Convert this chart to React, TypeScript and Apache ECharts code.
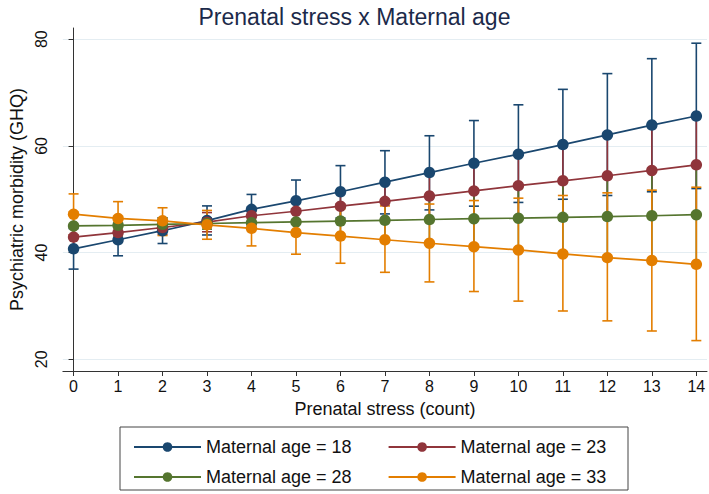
import React, { useEffect, useRef } from "react";
import * as echarts from "echarts";

const stress = [0, 1, 2, 3, 4, 5, 6, 7, 8, 9, 10, 11, 12, 13, 14];
const xTicks = [0, 1, 2, 3, 4, 5, 6, 7, 8, 9, 10, 11, 12, 13, 14];
const yTicks = [20, 40, 60, 80];

const seriesNames = ["Maternal age = 18", "Maternal age = 23", "Maternal age = 28", "Maternal age = 33"];
const colors = ["#1a476f", "#90353b", "#55752f", "#e37e00"];

const age18 = [40.7, 42.4, 44.1, 46.0, 48.1, 49.7, 51.4, 53.2, 55.0, 56.75, 58.45, 60.25, 62.05, 63.9, 65.6];
const age18Lo = [36.9, 39.4, 41.7, 43.3, 45.2, 45.8, 46.5, 47.25, 48.0, 48.7, 49.4, 50.0, 50.7, 51.4, 52.0];
const age18Hi = [44.5, 45.4, 46.5, 48.75, 50.9, 53.6, 56.3, 59.1, 61.9, 64.75, 67.7, 70.6, 73.55, 76.35, 79.25];

const age23 = [42.9, 43.75, 44.7, 45.7, 46.9, 47.75, 48.7, 49.6, 50.6, 51.55, 52.55, 53.45, 54.4, 55.4, 56.45];
const age23Lo = [40.9, 42.0, 43.4, 43.9, 45.7, 45.8, 45.9, 46.1, 46.3, 46.4, 46.5, 46.6, 46.8, 46.9, 47.2];
const age23Hi = [44.9, 45.5, 46.0, 47.5, 48.1, 49.7, 51.4, 53.1, 54.9, 56.7, 58.5, 60.3, 62.0, 63.9, 65.6];

const age28 = [45.0, 45.1, 45.3, 45.45, 45.6, 45.75, 45.9, 46.05, 46.2, 46.35, 46.45, 46.6, 46.75, 46.9, 47.1];
const age28Lo = [43.0, 43.5, 44.1, 44.4, 44.55, 43.8, 43.1, 42.4, 41.75, 41.1, 40.5, 39.75, 39.05, 38.5, 37.8];
const age28Hi = [47.0, 46.7, 46.5, 46.5, 46.9, 47.7, 48.7, 49.6, 50.6, 51.55, 52.55, 53.45, 54.4, 55.4, 56.45];

const age33 = [47.2, 46.4, 45.95, 45.2, 44.55, 43.75, 43.1, 42.4, 41.75, 41.1, 40.5, 39.75, 39.05, 38.5, 37.8];
const age33Lo = [43.3, 43.1, 43.2, 42.5, 41.25, 39.7, 38.0, 36.3, 34.5, 32.7, 30.9, 29.05, 27.2, 25.3, 23.5];
const age33Hi = [51.0, 49.55, 48.4, 47.9, 47.8, 47.8, 48.2, 48.75, 49.1, 49.75, 50.2, 50.7, 51.2, 51.7, 52.25];

const means = [age18, age23, age28, age33];
const lows = [age18Lo, age23Lo, age28Lo, age33Lo];
const highs = [age18Hi, age23Hi, age28Hi, age33Hi];

const FONT = "Liberation Sans, Arial, sans-serif";

function ciRenderer(color: string) {
  return (params: any, api: any) => {
    const x = api.value(0);
    const lo = api.value(1);
    const hi = api.value(2);
    const pLo = api.coord([x, lo]);
    const pHi = api.coord([x, hi]);
    const hw = 5;
    const style = { stroke: color, lineWidth: 1.6, fill: null };
    return {
      type: "group",
      children: [
        { type: "line", shape: { x1: pLo[0], y1: pLo[1], x2: pHi[0], y2: pHi[1] }, style },
        { type: "line", shape: { x1: pLo[0] - hw, y1: pLo[1], x2: pLo[0] + hw, y2: pLo[1] }, style },
        { type: "line", shape: { x1: pHi[0] - hw, y1: pHi[1], x2: pHi[0] + hw, y2: pHi[1] }, style },
      ],
    };
  };
}

export default function App() {
  const ref = useRef<HTMLDivElement>(null);
  useEffect(() => {
    if (!ref.current) return;
    const chart = echarts.init(ref.current, undefined, { renderer: "svg" });
    const ciSeries = seriesNames.map((n, k) => ({
      type: "custom",
      name: "ci" + k,
      renderItem: ciRenderer(colors[k]),
      data: stress.map((x, i) => [x, lows[k][i], highs[k][i]]),
      encode: { x: 0, y: [1, 2] },
      z: 2,
      silent: true,
    }));
    const lineSeries = seriesNames.map((n, k) => ({
      type: "line",
      name: n,
      data: stress.map((x, i) => [x, means[k][i]]),
      symbol: "circle",
      symbolSize: 11.5,
      showAllSymbol: true,
      lineStyle: { color: colors[k], width: 1.7 },
      itemStyle: { color: colors[k] },
      z: 3,
    }));
    const legendCommon = {
      left: 128,
      itemWidth: 67,
      itemHeight: 12,
      itemGap: 36,
      textStyle: { fontFamily: FONT, fontSize: 18, color: "#111" },
      selectedMode: false,
    };
    chart.setOption({
      animation: false,
      backgroundColor: "#ffffff",
      title: {
        text: "Prenatal stress x Maternal age",
        left: "center",
        top: 0,
        textStyle: { fontFamily: FONT, fontSize: 23, fontWeight: "normal", color: "#1c2a4a" },
      },
      grid: { left: 58, right: 2, top: 28, bottom: 123 },
      legend: [
        { ...legendCommon, top: 433, data: [seriesNames[0], seriesNames[1]] },
        { ...legendCommon, top: 463, data: [seriesNames[2], seriesNames[3]] },
      ],
      graphic: [
        {
          type: "rect",
          shape: { x: 120, y: 427, width: 508, height: 63 },
          style: { fill: "none", stroke: "#444", lineWidth: 1 },
          z: -1,
          silent: true,
        },
      ],
      xAxis: {
        type: "value",
        min: -0.24,
        max: 14.24,
        name: "Prenatal stress (count)",
        nameLocation: "middle",
        nameGap: 29,
        nameTextStyle: { fontFamily: FONT, fontSize: 18, color: "#111" },
        axisLine: { show: true, lineStyle: { color: "#333", width: 1 } },
        axisTick: { show: true, length: 5, customValues: xTicks, lineStyle: { color: "#333" } },
        axisLabel: { customValues: xTicks, fontFamily: FONT, fontSize: 16, color: "#111", margin: 7 },
        splitLine: { show: false },
      },
      yAxis: {
        type: "value",
        min: 17.8,
        max: 82.1,
        name: "Psychiatric morbidity (GHQ)",
        nameLocation: "middle",
        nameGap: 36,
        nameTextStyle: { fontFamily: FONT, fontSize: 18, color: "#111" },
        axisLine: { show: true, lineStyle: { color: "#333", width: 1 } },
        axisTick: { show: true, length: 5, customValues: yTicks, lineStyle: { color: "#333" } },
        axisLabel: { customValues: yTicks, rotate: 90, fontFamily: FONT, fontSize: 16, color: "#111", margin: 13 },
        splitLine: { show: true, lineStyle: { color: "#e4edf2", width: 1 } },
      },
      series: [...ciSeries, ...lineSeries],
    });
    return () => chart.dispose();
  }, []);
  return <div ref={ref} style={{ width: 709, height: 494, position: "fixed", left: 0, top: 0 }} />;
}
